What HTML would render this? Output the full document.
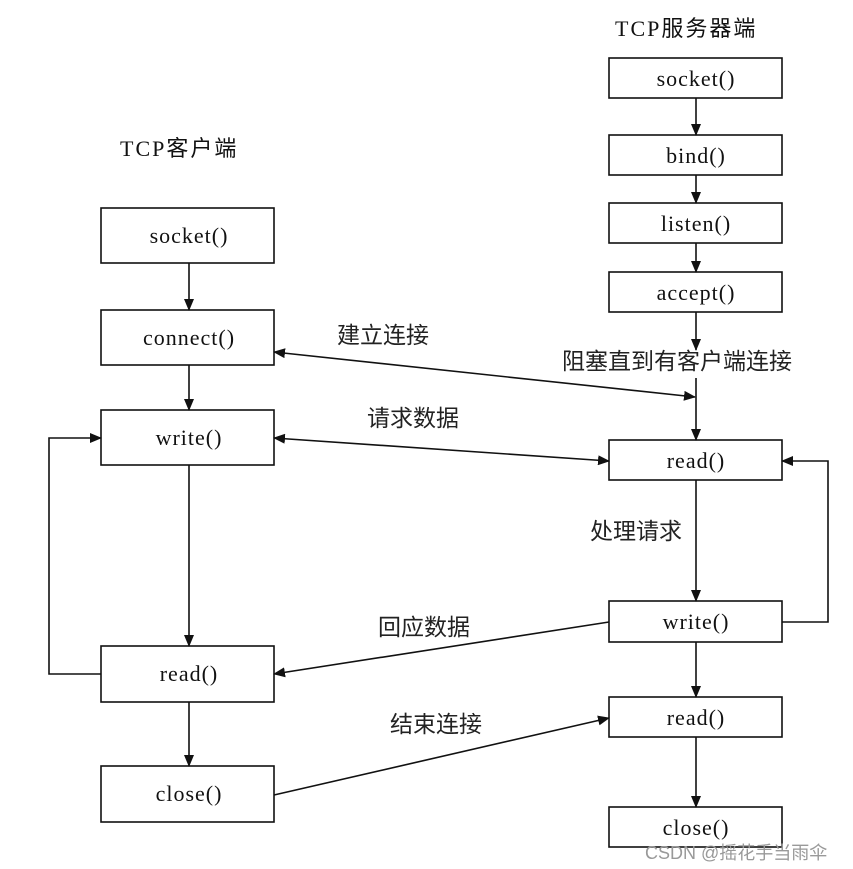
<!DOCTYPE html>
<html><head><meta charset="utf-8"><style>
body{margin:0;background:#fff;}
svg{display:block}
text{font-family:"Liberation Serif","Noto Sans CJK SC",serif;fill:#111}
.c{font-family:"Liberation Sans","Noto Sans CJK SC",sans-serif;font-size:23px;fill:#222}
.b{font-size:22px;letter-spacing:1px}
</style></head><body>
<svg width="853" height="869" viewBox="0 0 853 869" xmlns="http://www.w3.org/2000/svg">
<defs><marker id="a" markerWidth="12" markerHeight="10" refX="11" refY="5" orient="auto" markerUnits="userSpaceOnUse"><path d="M0,0 L12,5 L0,10 z" fill="#111"/></marker>
<marker id="s" markerWidth="12" markerHeight="10" refX="1" refY="5" orient="auto" markerUnits="userSpaceOnUse"><path d="M12,0 L0,5 L12,10 z" fill="#111"/></marker></defs>
<g fill="none" stroke="#111" stroke-width="1.6">
<rect x="101" y="208" width="173" height="55"/>
<rect x="101" y="310" width="173" height="55"/>
<rect x="101" y="410" width="173" height="55"/>
<rect x="101" y="646" width="173" height="56"/>
<rect x="101" y="766" width="173" height="56"/>
<rect x="609" y="58" width="173" height="40"/>
<rect x="609" y="135" width="173" height="40"/>
<rect x="609" y="203" width="173" height="40"/>
<rect x="609" y="272" width="173" height="40"/>
<rect x="609" y="440" width="173" height="40"/>
<rect x="609" y="601" width="173" height="41"/>
<rect x="609" y="697" width="173" height="40"/>
<rect x="609" y="807" width="173" height="40"/>
<line x1="189" y1="263" x2="189" y2="310" marker-end="url(#a)"/>
<line x1="189" y1="365" x2="189" y2="410" marker-end="url(#a)"/>
<line x1="189" y1="465" x2="189" y2="646" marker-end="url(#a)"/>
<line x1="189" y1="702" x2="189" y2="766" marker-end="url(#a)"/>
<line x1="696" y1="98" x2="696" y2="135" marker-end="url(#a)"/>
<line x1="696" y1="175" x2="696" y2="203" marker-end="url(#a)"/>
<line x1="696" y1="243" x2="696" y2="272" marker-end="url(#a)"/>
<line x1="696" y1="312" x2="696" y2="350" marker-end="url(#a)"/>
<line x1="696" y1="378" x2="696" y2="440" marker-end="url(#a)"/>
<line x1="696" y1="480" x2="696" y2="601" marker-end="url(#a)"/>
<line x1="696" y1="642" x2="696" y2="697" marker-end="url(#a)"/>
<line x1="696" y1="737" x2="696" y2="807" marker-end="url(#a)"/>
<polyline points="101,674 49,674 49,438 101,438" marker-end="url(#a)"/>
<polyline points="782,622 828,622 828,461 782,461" marker-end="url(#a)"/>
<line x1="274" y1="352" x2="695" y2="397" marker-start="url(#s)" marker-end="url(#a)"/>
<line x1="274" y1="438" x2="609" y2="461" marker-start="url(#s)" marker-end="url(#a)"/>
<line x1="609" y1="622" x2="274" y2="674" marker-end="url(#a)"/>
<line x1="274" y1="795" x2="609" y2="718" marker-end="url(#a)"/>
</g>
<g text-anchor="middle" class="b">
<text x="189" y="243">socket()</text>
<text x="189" y="345">connect()</text>
<text x="189" y="445">write()</text>
<text x="189" y="681">read()</text>
<text x="189" y="801">close()</text>
<text x="696" y="86">socket()</text>
<text x="696" y="163">bind()</text>
<text x="696" y="231">listen()</text>
<text x="696" y="300">accept()</text>
<text x="696" y="468">read()</text>
<text x="696" y="629">write()</text>
<text x="696" y="725">read()</text>
<text x="696" y="835">close()</text>
</g>
<text x="615" y="36" style="font-size:22px;letter-spacing:2px">TCP服务器端</text>
<text x="120" y="156" style="font-size:22px;letter-spacing:2px">TCP客户端</text>
<text class="c" x="337" y="343">建立连接</text>
<text class="c" x="562" y="369">阻塞直到有客户端连接</text>
<text class="c" x="367" y="426">请求数据</text>
<text class="c" x="590" y="539">处理请求</text>
<text class="c" x="378" y="635">回应数据</text>
<text class="c" x="390" y="732">结束连接</text>
<text x="645" y="859" style="font-family:'Liberation Sans','Noto Sans CJK SC',sans-serif;font-size:18px;fill:#999">CSDN @摇花手当雨伞</text>
</svg>
</body></html>
